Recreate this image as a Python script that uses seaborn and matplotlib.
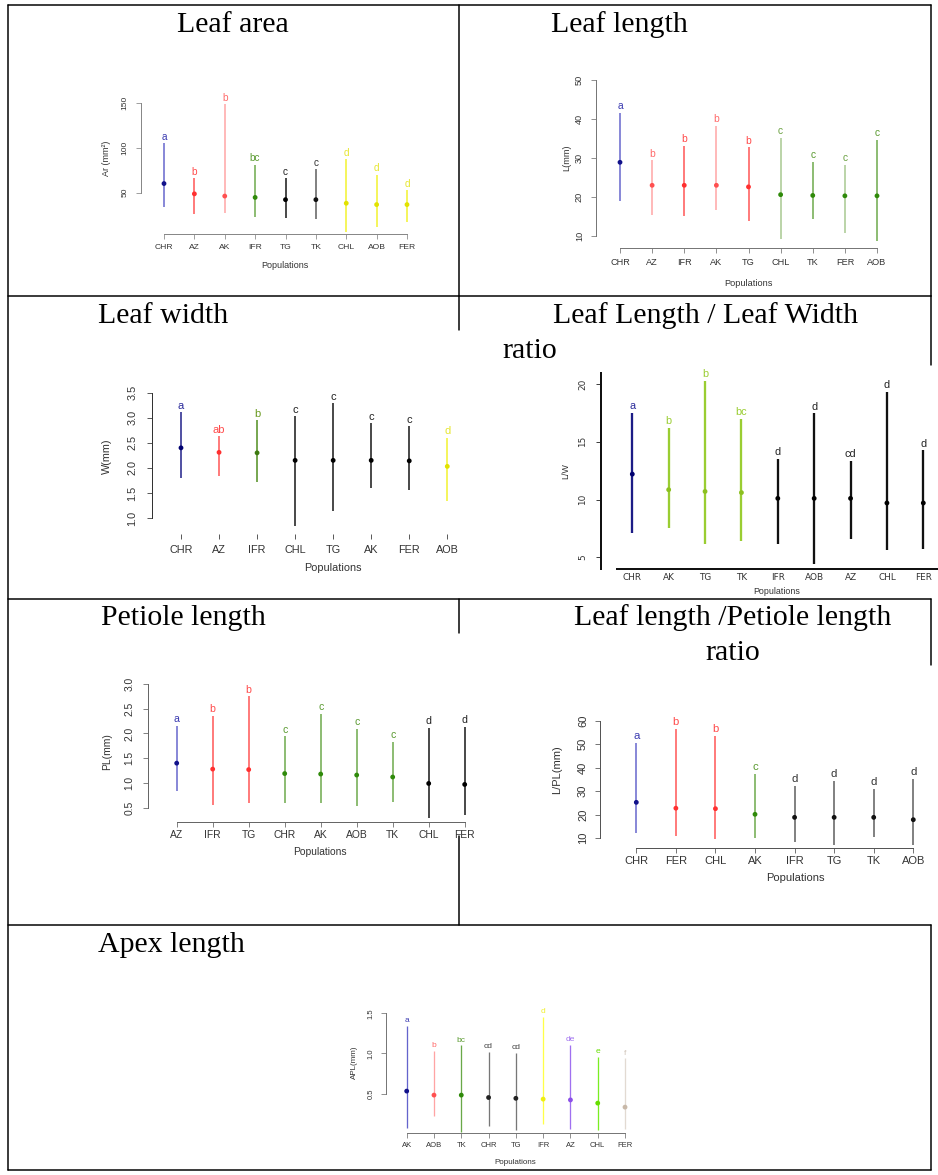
import numpy as np
import pandas as pd
import matplotlib
matplotlib.use("Agg")
import matplotlib.pyplot as plt
from matplotlib.lines import Line2D
import seaborn as sns

# ---------------- data: mean and interval per population ----------------
AREA_POPS = ["CHR", "AZ", "AK", "IFR", "TG", "TK", "CHL", "AOB", "FER"]
AREA_MEAN = [60, 48.5, 46, 44.5, 42, 42, 38, 36.5, 36.5]
AREA_LOW = [34, 26, 27, 23, 21, 20, 6, 11, 17]
AREA_HIGH = [105, 66, 148.5, 81, 66, 76, 87, 70, 52.5]
AREA_GROUPS = ["a", "b", "b", "bc", "c", "c", "d", "d", "d"]

LEN_POPS = ["CHR", "AZ", "IFR", "AK", "TG", "CHL", "TK", "FER", "AOB"]
LEN_MEAN = [28.9, 23.0, 23.0, 23.0, 22.6, 20.6, 20.4, 20.3, 20.3]
LEN_LOW = [18.9, 15.5, 15.1, 16.6, 13.8, 9.3, 14.3, 10.7, 8.8]
LEN_HIGH = [41.6, 29.4, 33.1, 38.3, 32.7, 35.1, 29.1, 28.2, 34.7]
LEN_GROUPS = ["a", "b", "b", "b", "b", "c", "c", "c", "c"]

WID_POPS = ["CHR", "AZ", "IFR", "CHL", "TG", "AK", "FER", "AOB"]
WID_MEAN = [2.40, 2.31, 2.30, 2.15, 2.15, 2.15, 2.14, 2.03]
WID_LOW = [1.79, 1.83, 1.71, 0.84, 1.13, 1.59, 1.55, 1.33]
WID_HIGH = [3.11, 2.63, 2.95, 3.03, 3.29, 2.89, 2.83, 2.60]
WID_GROUPS = ["a", "ab", "b", "c", "c", "c", "c", "d"]

LW_POPS = ["CHR", "AK", "TG", "TK", "IFR", "AOB", "AZ", "CHL", "FER"]
LW_MEAN = [12.2, 10.85, 10.7, 10.6, 10.1, 10.1, 10.1, 9.7, 9.7]
LW_LOW = [7.1, 7.5, 6.15, 6.4, 6.15, 4.4, 6.6, 5.6, 5.7]
LW_HIGH = [17.5, 16.2, 20.3, 17.0, 13.5, 17.45, 13.35, 19.3, 14.25]
LW_GROUPS = ["a", "b", "b", "bc", "d", "d", "cd", "d", "d"]

PET_POPS = ["AZ", "IFR", "TG", "CHR", "AK", "AOB", "TK", "CHL", "FER"]
PET_MEAN = [1.40, 1.28, 1.27, 1.19, 1.18, 1.16, 1.12, 0.99, 0.97]
PET_LOW = [0.84, 0.56, 0.59, 0.59, 0.60, 0.53, 0.62, 0.29, 0.35]
PET_HIGH = [2.16, 2.36, 2.75, 1.94, 2.40, 2.09, 1.83, 2.11, 2.13]
PET_GROUPS = ["a", "b", "b", "c", "c", "c", "c", "d", "d"]

LPL_POPS = ["CHR", "FER", "CHL", "AK", "IFR", "TG", "TK", "AOB"]
LPL_MEAN = [25.2, 22.7, 22.5, 20.1, 18.8, 18.8, 18.8, 17.8]
LPL_LOW = [12.3, 10.9, 9.4, 9.9, 8.2, 7.0, 10.6, 7.0]
LPL_HIGH = [50.6, 56.5, 53.5, 37.4, 32.3, 34.4, 30.9, 35.3]
LPL_GROUPS = ["a", "b", "b", "c", "d", "d", "d", "d"]

APX_POPS = ["AK", "AOB", "TK", "CHR", "TG", "IFR", "AZ", "CHL", "FER"]
APX_MEAN = [0.53, 0.48, 0.48, 0.45, 0.44, 0.43, 0.42, 0.38, 0.33]
APX_LOW = [0.07, 0.22, 0.02, 0.10, 0.05, 0.12, 0.06, 0.05, 0.06]
APX_HIGH = [1.34, 1.03, 1.10, 1.02, 1.01, 1.46, 1.11, 0.96, 0.94]
APX_GROUPS = ["a", "b", "bc", "cd", "cd", "d", "de", "e", "f"]

# ---------------- colour scheme: (bar, point, letter) ----------------
COLORS = {
    "blue": ("#6464cc", "#12128a", "#3a3ab0"),
    "navy": ("#1c1c86", "#000070", "#2a2a9a"),
    "red": ("#ff5252", "#ff3030", "#ff4a4a"),
    "pink": ("#ffa4a4", "#ff5050", "#ff6a6a"),
    "green": ("#6aa848", "#2f8a0a", "#5a9a30"),
    "lightgreen": ("#a6c88e", "#2f8a0a", "#6aa040"),
    "olive": ("#4d8c1a", "#3e7a10", "#6a9a20"),
    "black": ("#111111", "#000000", "#222222"),
    "gray": ("#5a5a5a", "#111111", "#333333"),
    "midgray": ("#777777", "#222222", "#444444"),
    "yellow": ("#f2f22a", "#e2e200", "#e6e630"),
    "lime": ("#9acd32", "#8cc020", "#9acd32"),
    "purple": ("#a070f0", "#8c50e8", "#a070f0"),
    "brightgreen": ("#7aee22", "#66dd00", "#66dd00"),
    "beige": ("#e2dad2", "#c8b8a8", "#d0c4b8"),
    "lemon": ("#ffff48", "#eeee10", "#f0f030"),
}

W, H, DPI = 938, 1175, 100
PT = 72 / DPI  # points per pixel

sns.set_theme(style="white")
plt.rcParams["font.family"] = ["Liberation Sans", "DejaVu Sans"]

fig = plt.figure(figsize=(W / DPI, H / DPI), dpi=DPI)
fig.patch.set_facecolor("white")


def fx(x):
    return x / W


def fy(y):
    return 1 - y / H


def rule(xs, ys, lw=1.5):
    fig.add_artist(Line2D([fx(v) for v in xs], [fy(v) for v in ys],
                          color="black", lw=lw * PT, transform=fig.transFigure))


def heading(cx, cy, text):
    fig.text(fx(cx), fy(cy), text, ha="center", va="center",
             fontsize=21.5, family="Liberation Serif", color="black")


def means_panel(pops, means, lows, highs, groups, scheme, box, cat_px, val_px,
                yticks, yfmt, ylabel, ylabel_xy, xlabel_xy, xtick_y, ytick_x,
                fs=6.0, lfs=7.0, bar_lw=1.5, axis_color="#666666",
                full_left=False, bottom_px=None, bottom_line=True,
                bottom_ticks=True, tick_font=None, axis_lw=1.0, label_fs=None):
    L, T, R, B = box
    x0, dx = cat_px
    (va, ya), (vb, yb) = val_px
    ax = fig.add_axes([fx(L), fy(B), (R - L) / W, (B - T) / H])
    ax.patch.set_alpha(0)

    def yval(py):
        return va + (py - ya) * (vb - va) / (yb - ya)

    n = len(pops)
    pos = np.arange(n)
    ax.set_xlim((L - x0) / dx, (R - x0) / dx)
    ax.set_ylim(yval(B), yval(T))

    df = pd.DataFrame({"pop": pops, "pos": pos, "mean": means,
                       "low": lows, "high": highs, "group": groups})
    bar_cols = [COLORS[k][0] for k in scheme]
    pt_pal = {p: COLORS[k][1] for p, k in zip(pops, scheme)}
    let_cols = [COLORS[k][2] for k in scheme]

    ax.vlines(df["pos"], df["low"], df["high"], colors=bar_cols,
              lw=bar_lw * PT, clip_on=False, zorder=2)
    sns.scatterplot(data=df, x="pos", y="mean", hue="pop", palette=pt_pal,
                    s=12, linewidth=0, legend=False, ax=ax, clip_on=False,
                    zorder=3)
    for i, row in df.iterrows():
        ax.annotate(row["group"], (row["pos"], row["high"]), xytext=(0, 1.2),
                    textcoords="offset points", ha="center", va="bottom",
                    fontsize=lfs, color=let_cols[i], annotation_clip=False)

    for s in ("top", "right"):
        ax.spines[s].set_visible(False)
    for s in ("left", "bottom"):
        ax.spines[s].set_color(axis_color)
        ax.spines[s].set_linewidth(axis_lw * PT)
    if not full_left:
        ax.spines["left"].set_bounds(yticks[0], yticks[-1])
    if bottom_line:
        if bottom_px is None:
            ax.spines["bottom"].set_bounds(0, n - 1)
        else:
            ax.spines["bottom"].set_bounds((bottom_px[0] - x0) / dx,
                                           (bottom_px[1] - x0) / dx)
    else:
        ax.spines["bottom"].set_visible(False)

    fpx = fs / PT
    tick_len = 5
    ax.set_xticks(pos)
    ax.set_xticklabels(pops, fontsize=fs, color="#333333",
                       family=tick_font if tick_font else None)
    blen = tick_len if bottom_ticks else 0
    xpad = (xtick_y - B - blen - 0.42 * fpx) * PT
    ax.tick_params(axis="x", length=blen * PT, width=0.8 * PT,
                   color=axis_color, pad=max(xpad, 0.5), bottom=True)
    ax.set_yticks(yticks)
    ax.set_yticklabels([yfmt.format(v) for v in yticks], fontsize=fs,
                       color="#333333", rotation=90, va="center",
                       family=tick_font if tick_font else None)
    ypad = (L - tick_len - (ytick_x + 0.42 * fpx)) * PT
    ax.tick_params(axis="y", length=tick_len * PT, width=0.8 * PT,
                   color=axis_color, pad=max(ypad, 0.5), left=True)
    ax.grid(False)
    ax.set_xlabel("")
    ax.set_ylabel("")

    lab_fs = label_fs if label_fs else fs
    fig.text(fx(ylabel_xy[0]), fy(ylabel_xy[1]), ylabel, rotation=90,
             ha="center", va="center", fontsize=lab_fs, color="#333333")
    fig.text(fx(xlabel_xy[0]), fy(xlabel_xy[1]), "Populations",
             ha="center", va="center", fontsize=lab_fs, color="#333333")
    return ax


# ---------------- table grid ----------------
for y in (5, 296, 599, 925, 1170):
    rule((8, 931), (y, y))
rule((8, 8), (5, 1170))
for y0, y1 in ((5, 296), (296, 365), (599, 665), (925, 1170)):
    rule((931, 931), (y0, y1))
for y0, y1 in ((5, 296), (296, 330), (599, 633), (836, 925)):
    rule((459, 459), (y0, y1))

# ---------------- headings ----------------
heading(233, 25, "Leaf area")
heading(619, 25, "Leaf length")
heading(163, 316, "Leaf width")
heading(705, 316, "Leaf Length / Leaf Width")
heading(530, 351, "ratio")
heading(183, 618, "Petiole length")
heading(733, 618, "Leaf length /Petiole length")
heading(733, 653, "ratio")
heading(171, 945, "Apex length")

# ---------------- panels ----------------
means_panel(AREA_POPS, AREA_MEAN, AREA_LOW, AREA_HIGH, AREA_GROUPS,
            ["blue", "red", "pink", "green", "black", "gray",
             "yellow", "yellow", "yellow"],
            box=(141, 60, 430, 234), cat_px=(164, 30.375),
            val_px=((50, 192.5), (150, 103)),
            yticks=[50, 100, 150], yfmt="{:d}", ylabel="Ar (mm²)",
            ylabel_xy=(106, 158), xlabel_xy=(285, 266), xtick_y=247.7,
            ytick_x=125, fs=6.1, lfs=7.2, label_fs=6.5,
            axis_color="#888888")

means_panel(LEN_POPS, LEN_MEAN, LEN_LOW, LEN_HIGH, LEN_GROUPS,
            ["blue", "pink", "red", "pink", "red", "lightgreen", "green",
             "lightgreen", "green"],
            box=(596, 60, 900, 248), cat_px=(620, 32.125),
            val_px=((10, 236), (50, 80)),
            yticks=[10, 20, 30, 40, 50], yfmt="{:d}", ylabel="L(mm)",
            ylabel_xy=(567, 158), xlabel_xy=(748, 284), xtick_y=262,
            ytick_x=580, fs=6.6, lfs=7.4, axis_color="#777777")

means_panel(WID_POPS, WID_MEAN, WID_LOW, WID_HIGH, WID_GROUPS,
            ["navy", "red", "olive", "black", "black", "black", "black",
             "yellow"],
            box=(151.7, 385, 460, 534), cat_px=(181, 38.04),
            val_px=((1.0, 518), (3.5, 392.7)),
            yticks=[1.0, 1.5, 2.0, 2.5, 3.0, 3.5], yfmt="{:.1f}",
            ylabel="W(mm)", ylabel_xy=(106.7, 456.7),
            xlabel_xy=(332.7, 568.3), xtick_y=549.3, ytick_x=133,
            fs=7.8, lfs=8.0, axis_color="#333333", bottom_line=False)

means_panel(LW_POPS, LW_MEAN, LW_LOW, LW_HIGH, LW_GROUPS,
            ["navy", "lime", "lime", "lime", "black", "black", "black",
             "black", "black"],
            box=(600.7, 372.7, 937, 569.3), cat_px=(632.3, 36.375),
            val_px=((5, 557.3), (20, 384)),
            yticks=[5, 10, 15, 20], yfmt="{:d}", ylabel="L/W",
            ylabel_xy=(566, 470.7), xlabel_xy=(776.7, 591), xtick_y=576.5,
            ytick_x=583.3, fs=6.4, lfs=7.8, bar_lw=2.3, axis_color="#111111",
            full_left=True, bottom_px=(616.7, 936.7), bottom_ticks=False,
            tick_font="DejaVu Sans", axis_lw=2.0)

means_panel(PET_POPS, PET_MEAN, PET_LOW, PET_HIGH, PET_GROUPS,
            ["blue", "red", "red", "green", "green", "green", "green",
             "black", "black"],
            box=(148.3, 680, 475, 821.7), cat_px=(176.7, 36.0),
            val_px=((0.5, 807.7), (3.0, 684)),
            yticks=[0.5, 1.0, 1.5, 2.0, 2.5, 3.0], yfmt="{:.1f}",
            ylabel="PL(mm)", ylabel_xy=(106.7, 751.7), xlabel_xy=(320, 852),
            xtick_y=834.3, ytick_x=130, fs=7.4, lfs=7.6,
            axis_color="#666666")

means_panel(LPL_POPS, LPL_MEAN, LPL_LOW, LPL_HIGH, LPL_GROUPS,
            ["blue", "red", "red", "green", "gray", "gray", "gray", "gray"],
            box=(600, 705, 935, 848.3), cat_px=(636.3, 39.57),
            val_px=((10, 838), (60, 720.7)),
            yticks=[10, 20, 30, 40, 50, 60], yfmt="{:d}", ylabel="L/PL(mm)",
            ylabel_xy=(557, 770), xlabel_xy=(795, 877.7), xtick_y=861,
            ytick_x=583.3, fs=8.0, lfs=8.2, axis_color="#555555")

means_panel(APX_POPS, APX_MEAN, APX_LOW, APX_HIGH, APX_GROUPS,
            ["blue", "pink", "green", "midgray", "midgray", "lemon", "purple",
             "brightgreen", "beige"],
            box=(385.7, 1005, 640, 1133.3), cat_px=(406.7, 27.29),
            val_px=((0.5, 1093.5), (1.5, 1013.3)),
            yticks=[0.5, 1.0, 1.5], yfmt="{:.1f}", ylabel="APL(mm)",
            ylabel_xy=(354, 1062), xlabel_xy=(515.7, 1162.3), xtick_y=1145.7,
            ytick_x=371.7, fs=5.5, lfs=6.0, label_fs=5.8, bar_lw=1.3,
            axis_color="#777777")

fig.savefig("out.png", dpi=DPI, facecolor="white")
